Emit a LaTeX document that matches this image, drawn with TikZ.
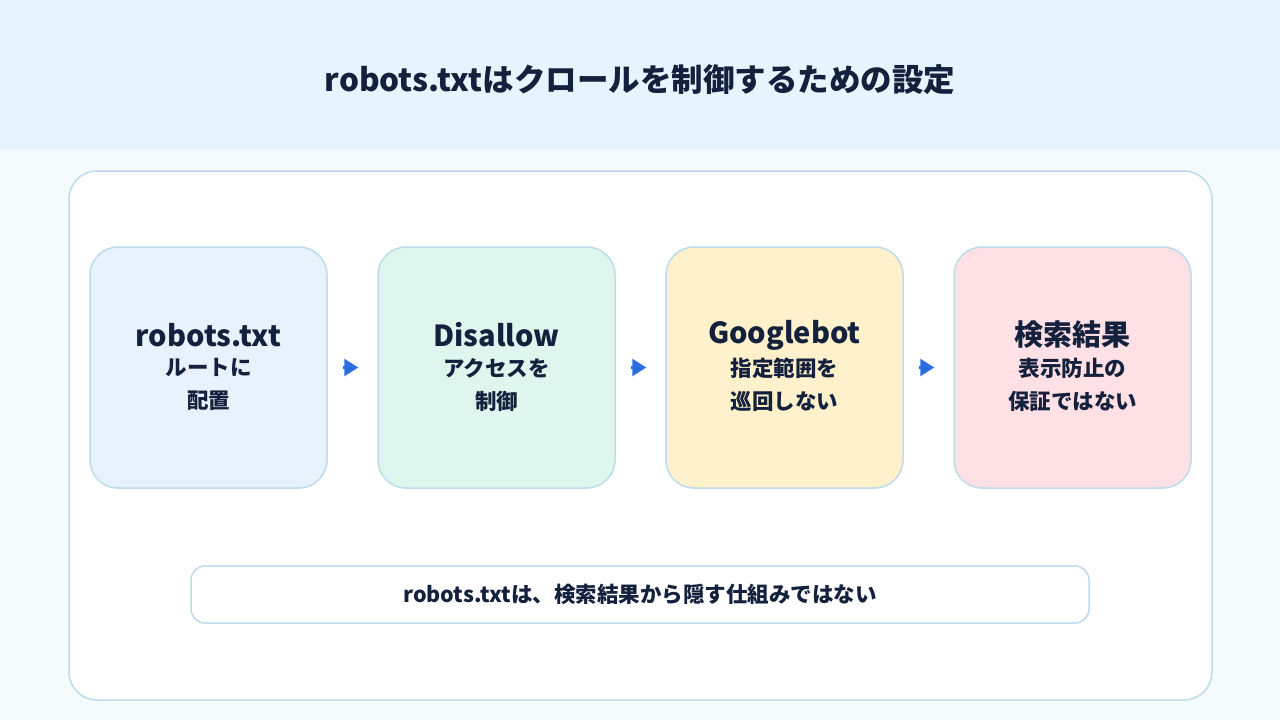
\documentclass[tikz,border=0pt]{standalone}
\usepackage{fontspec}
\setmainfont{Noto Sans CJK JP}
\usetikzlibrary{arrows.meta}
\definecolor{ink}{HTML}{14213D}
\definecolor{hdr}{HTML}{E6F4FD}
\definecolor{bgc}{HTML}{F5FAFD}
\definecolor{edgec}{HTML}{BCDCEC}
\definecolor{cA}{HTML}{E8F2FC}
\definecolor{cB}{HTML}{DFF6EF}
\definecolor{cC}{HTML}{FFF1CC}
\definecolor{cD}{HTML}{FFE0E5}
\definecolor{arr}{HTML}{2B6FDE}
\tikzset{
  stepbox/.style={draw=edgec, line width=1.5pt, rounded corners=28pt, minimum width=237pt, minimum height=241pt, inner sep=0pt},
  ttl/.style={text=ink, font=\fontsize{29}{34}\selectfont\bfseries, inner sep=0pt},
  sub/.style={text=ink, font=\fontsize{21.5}{26}\selectfont\bfseries, inner sep=0pt},
  flow/.style={draw=arr, line width=2.5pt, -{Triangle[length=14pt,width=17pt]}, shorten <=15pt, shorten >=19pt},
}
\begin{document}
\begin{tikzpicture}[x=1pt,y=-1pt]
\useasboundingbox (0,0) rectangle (1280,720);
\fill[bgc] (0,0) rectangle (1280,720);
\fill[hdr] (0,0) rectangle (1280,150);
\node[text=ink, font=\fontsize{31.5}{38}\selectfont\bfseries, inner sep=0pt] (title) at (640,80) {robots.txtはクロールを制御するための設定};
\node[draw=edgec, fill=white, line width=1.5pt, rounded corners=28pt, minimum width=1143pt, minimum height=529pt] (panel) at (640.5,435.5) {};
\node[stepbox, fill=cA] (b1) at (208.5,367.5) {};
\node[stepbox, fill=cB] (b2) at (496.5,367.5) {};
\node[stepbox, fill=cC] (b3) at (784.5,367.5) {};
\node[stepbox, fill=cD] (b4) at (1072.5,367.5) {};
\node[ttl] (t1) at (208.5,335) {robots.txt};
\node[sub] (s1a) at (208.5,368) {ルートに};
\node[sub] (s1b) at (208.5,401) {配置};
\node[ttl] (t2) at (496.5,335) {Disallow};
\node[sub] (s2a) at (496.5,368) {アクセスを};
\node[sub] (s2b) at (496.5,401) {制御};
\node[ttl] (t3) at (784.5,335) {Googlebot};
\node[sub] (s3a) at (784.5,368) {指定範囲を};
\node[sub] (s3b) at (784.5,401) {巡回しない};
\node[ttl] (t4) at (1072.5,335) {検索結果};
\node[sub] (s4a) at (1072.5,368) {表示防止の};
\node[sub] (s4b) at (1072.5,401) {保証ではない};
\draw[flow] (b1.east) -- (b2.west);
\draw[flow] (b2.east) -- (b3.west);
\draw[flow] (b3.east) -- (b4.west);
\node[draw=edgec, fill=white, line width=1.5pt, rounded corners=14pt, minimum width=898pt, minimum height=57pt, text=ink, font=\fontsize{21.5}{26}\selectfont\bfseries] (note) at (640,594.5) {robots.txtは、検索結果から隠す仕組みではない};
\end{tikzpicture}
\end{document}
